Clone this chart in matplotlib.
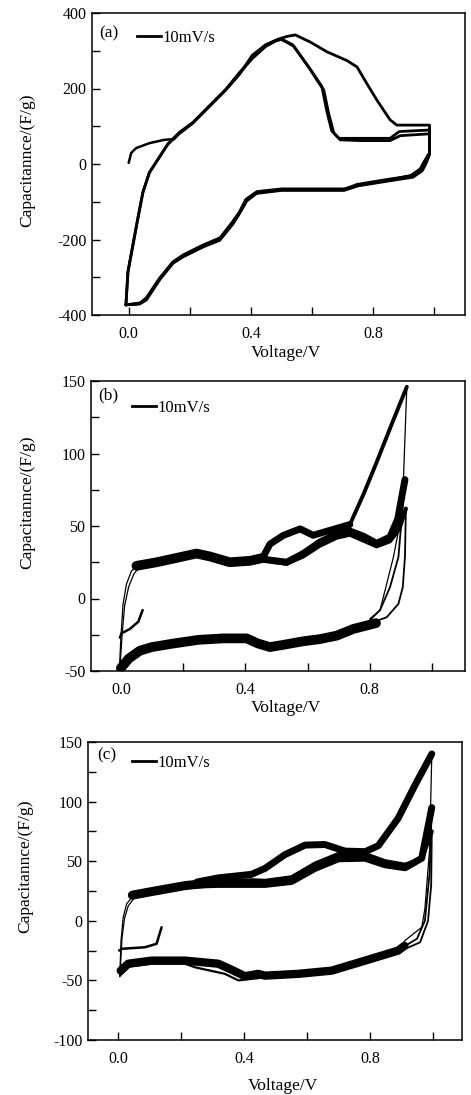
import matplotlib
matplotlib.use("Agg")
import matplotlib.pyplot as plt
from matplotlib.lines import Line2D
from matplotlib.ticker import MultipleLocator, FixedLocator

plt.rcParams['font.family'] = ['Liberation Serif', 'DejaVu Serif']
plt.rcParams['axes.unicode_minus'] = False

# ---------------- Panel (a) data ----------------
a_init_v = [0.0, 0.008, 0.024, 0.067, 0.116, 0.149, 0.165]
a_init_c = [3, 29, 42, 55, 64, 66, 80]

a_cyc1_v = [0.165, 0.209, 0.263, 0.317, 0.361, 0.404, 0.448, 0.486, 0.518, 0.545, 0.594,
            0.649, 0.714, 0.747, 0.779, 0.812, 0.855, 0.877, 0.984, 0.984, 0.964, 0.953,
            0.920, 0.845, 0.747, 0.703, 0.594, 0.502, 0.415, 0.383, 0.361, 0.339, 0.296,
            0.241, 0.176, 0.143, 0.100, 0.056, 0.035, -0.009]
a_cyc1_c = [80, 108, 152, 196, 238, 281, 314, 330, 338, 342, 323,
            297, 274, 257, 213, 169, 117, 103, 103, 30, 3, -15,
            -32, -41, -54, -68, -68, -68, -76, -94, -129, -155, -199,
            -217, -243, -261, -304, -357, -370, -373]

a_cyc2_v = [-0.009, -0.003, 0.013, 0.029, 0.046, 0.067, 0.095, 0.127, 0.165, 0.209, 0.263,
            0.317, 0.361, 0.404, 0.448, 0.480, 0.500, 0.540, 0.594, 0.616, 0.638, 0.654,
            0.671, 0.692, 0.757, 0.855, 0.888, 0.984, 0.984, 0.968, 0.955, 0.925, 0.850,
            0.750, 0.705, 0.600, 0.500, 0.420, 0.388, 0.366, 0.343, 0.300, 0.245, 0.180,
            0.147, 0.104, 0.060, 0.038, -0.009]
a_cyc2_c = [-374, -287, -217, -147, -76, -24, 11, 51, 82, 108, 152,
            196, 236, 288, 316, 327, 330, 312, 250, 222, 196, 134,
            82, 64, 62, 62, 75, 80, 28, 5, -12, -30, -43,
            -56, -66, -66, -66, -73, -92, -124, -150, -195, -214, -240,
            -258, -300, -353, -368, -373]

a_cyc3_v = [-0.009, -0.002, 0.014, 0.030, 0.047, 0.068, 0.096, 0.128, 0.166, 0.210, 0.264,
            0.318, 0.362, 0.405, 0.449, 0.482, 0.500, 0.536, 0.588, 0.610, 0.632, 0.648,
            0.664, 0.688, 0.757, 0.855, 0.885, 0.984, 0.984, 0.972, 0.960, 0.930, 0.850,
            0.750, 0.705, 0.600, 0.500, 0.418, 0.386, 0.362, 0.340, 0.298, 0.243, 0.178,
            0.145, 0.102, 0.058, 0.036, -0.009]
a_cyc3_c = [-372, -285, -215, -145, -74, -22, 13, 53, 84, 110, 154,
            198, 242, 280, 312, 326, 331, 316, 258, 232, 205, 140,
            88, 68, 68, 68, 86, 90, 25, 0, -18, -35, -45,
            -58, -70, -70, -70, -78, -98, -132, -160, -202, -220, -246,
            -263, -306, -360, -371, -373]

# ---------------- Panel (b) data ----------------
b_init_v = [0.070, 0.056, 0.029, 0.002, -0.003]
b_init_c = [-8, -16, -21, -24, -27]

b_rise1_v = [-0.005, 0.000, 0.007, 0.018, 0.034, 0.061]
b_rise1_c = [-50, -27, -4, 10, 19, 24]
b_rise2_v = [-0.003, 0.004, 0.012, 0.025, 0.042, 0.065]
b_rise2_c = [-48, -25, -5, 8, 17, 23]

b_plat_v = [0.050, 0.115, 0.179, 0.243, 0.286, 0.350, 0.415, 0.457]
b_plat_c = [22.5, 25, 28.0, 31, 29.0, 25, 26, 28.0]

b_up1_v = [0.457, 0.479, 0.522, 0.576, 0.618, 0.672, 0.736]
b_up1_c = [28.6, 37.5, 43.5, 48.0, 43.6, 47, 51]
b_ramp1_v = [0.736, 0.780, 0.822, 0.870, 0.919]
b_ramp1_c = [51, 72, 94, 120, 146]
b_up2_v = [0.457, 0.479, 0.533, 0.586, 0.640, 0.694, 0.736, 0.779, 0.822, 0.865, 0.890, 0.913]
b_up2_c = [27.0, 26.5, 25.0, 31, 39, 44.5, 46.5, 43.0, 38, 42.4, 55, 82]
b_up3_v = [0.457, 0.480, 0.533, 0.586, 0.640, 0.694, 0.736, 0.779, 0.822, 0.865, 0.895, 0.916]
b_up3_c = [26.5, 25.5, 24, 29, 36.5, 42, 44, 40, 36, 39.5, 48, 62]

b_rev1_v = [0.919, 0.906, 0.897, 0.876, 0.833, 0.800]
b_rev1_c = [146, 70, 52, 28.6, -8, -14]
b_rev2_v = [0.913, 0.892, 0.865, 0.833, 0.800]
b_rev2_c = [82, 28.6, 7.8, -8, -15]
b_rev3_v = [0.916, 0.913, 0.906, 0.892, 0.854, 0.800]
b_rev3_c = [62, 28.6, 7.8, -3.7, -13, -17]

b_cath1_v = [0.820, 0.747, 0.694, 0.640, 0.586, 0.521, 0.479, 0.440, 0.404, 0.330, 0.250,
             0.170, 0.100, 0.061, 0.025, 0.000]
b_cath1_c = [-17, -21, -25.6, -28, -29.5, -32, -33.5, -31, -27.5, -27.5, -28.5,
             -31, -33.5, -36, -41.5, -48]

# ---------------- Panel (c) data ----------------
c_init_v = [0.138, 0.122, 0.085, 0.011, 0.003]
c_init_c = [-5.4, -19.3, -22.2, -23.5, -25]

c_rise1_v = [0.005, 0.009, 0.016, 0.027, 0.053]
c_rise1_c = [-47, -16.5, 3, 14.3, 22.7]
c_rise2_v = [0.006, 0.012, 0.020, 0.032, 0.058]
c_rise2_c = [-44, -15, 2, 12.5, 21.5]

c_plat_v = [0.045, 0.106, 0.212, 0.300]
c_plat_c = [21.5, 24.5, 29.5, 32]

c_up1_v = [0.250, 0.318, 0.424, 0.467, 0.530, 0.594, 0.657, 0.721, 0.785, 0.827, 0.890, 0.944, 0.997]
c_up1_c = [32.5, 36, 39, 44, 55.5, 63.5, 64.0, 58.5, 58, 63.0, 86, 114, 140]
c_up2_v = [0.250, 0.318, 0.424, 0.467, 0.551, 0.626, 0.700, 0.785, 0.848, 0.912, 0.965, 0.997]
c_up2_c = [30, 30.5, 30.5, 30.5, 33.0, 44, 52.0, 52.5, 47.0, 44.5, 52.5, 95]
c_up3_v = [0.250, 0.318, 0.424, 0.467, 0.551, 0.626, 0.700, 0.785, 0.848, 0.912, 0.965, 0.997]
c_up3_c = [31, 33, 34, 33.5, 36.5, 48, 56, 56, 50, 47, 52, 75]

c_rev1_v = [0.997, 0.990, 0.975, 0.965, 0.912, 0.890]
c_rev1_c = [140, 60, 10, -5.4, -16.5, -25]
c_rev2_v = [0.997, 0.990, 0.975, 0.950, 0.900]
c_rev2_c = [95, 40, 0, -15, -23]
c_rev3_v = [0.997, 0.995, 0.985, 0.960, 0.900]
c_rev3_c = [75, 30, 0, -18, -25]

c_cath1_v = [0.910, 0.890, 0.785, 0.679, 0.573, 0.467, 0.445, 0.403, 0.360, 0.318, 0.212, 0.106,
             0.032, 0.008]
c_cath1_c = [-21, -25, -33.4, -41.8, -44.5, -46, -44.5, -46.5, -41.0, -36, -33.4, -33.4,
             -36, -41.8]
c_cath2_v = [0.573, 0.467, 0.424, 0.382, 0.339, 0.244, 0.212, 0.106, 0.032, 0.006]
c_cath2_c = [-46, -47.5, -48.7, -50, -44.5, -39, -36, -36, -38.5, -46]

LEG = '10mV/s'


def style(ax, xlim, ylim, ymaj, ymin, ylabels):
    ax.set_xlim(*xlim)
    ax.set_ylim(*ylim)
    ax.xaxis.set_major_locator(FixedLocator([0.0, 0.4, 0.8]))
    ax.xaxis.set_minor_locator(FixedLocator([0.2, 0.6, 1.0]))
    ax.set_xticklabels(['0.0', '0.4', '0.8'])
    ax.yaxis.set_major_locator(FixedLocator(ymaj))
    ax.yaxis.set_minor_locator(MultipleLocator(ymin))
    ax.set_yticklabels(ylabels)
    ax.tick_params(which='both', direction='in', top=False, right=False,
                   length=6, width=1.0, labelsize=11.5)
    ax.tick_params(axis='x', which='both', pad=8)
    ax.tick_params(axis='y', which='both', pad=4)
    for s in ax.spines.values():
        s.set_linewidth(1.1)
    ax.set_xlabel('Voltage/V', fontsize=12.5)
    ax.set_ylabel('Capacitannce/(F/g)', fontsize=12.5)


fig = plt.figure(figsize=(4.71, 10.95), dpi=100)

ax_a = fig.add_axes([92 / 471, 1 - 315 / 1095, 373 / 471, 302 / 1095])
ax_b = fig.add_axes([91 / 471, 1 - 671 / 1095, 374 / 471, 290 / 1095])
ax_c = fig.add_axes([88 / 471, 1 - 1040 / 1095, 374 / 471, 298 / 1095])

k = dict(color='black', solid_joinstyle='round', solid_capstyle='round')

# ---- (a)
ax_a.plot(a_init_v, a_init_c, lw=1.8, **k)
ax_a.plot(a_cyc1_v, a_cyc1_c, lw=2.0, **k)
ax_a.plot(a_cyc2_v, a_cyc2_c, lw=2.0, **k)
ax_a.plot(a_cyc3_v, a_cyc3_c, lw=2.0, **k)
style(ax_a, (-0.12, 1.10), (-400, 400), [-400, -200, 0, 200, 400], 100,
      ['-400', '-200', '0', '200', '400'])

# ---- (b)
band, thin = 5.0, 0.9
ax_b.plot(b_init_v, b_init_c, lw=1.8, **k)
ax_b.plot(b_rise1_v, b_rise1_c, lw=thin, **k)
ax_b.plot(b_rise2_v, b_rise2_c, lw=thin, **k)
ax_b.plot(b_plat_v, b_plat_c, lw=7.0, **k)
ax_b.plot(b_up1_v, b_up1_c, lw=band, **k)
ax_b.plot(b_ramp1_v, b_ramp1_c, lw=2.8, **k)
ax_b.plot(b_up2_v, b_up2_c, lw=band, **k)
ax_b.plot(b_up3_v, b_up3_c, lw=3.0, **k)
ax_b.plot(b_rev1_v, b_rev1_c, lw=thin, **k)
ax_b.plot(b_rev2_v, b_rev2_c, lw=thin + 0.4, **k)
ax_b.plot(b_rev3_v, b_rev3_c, lw=thin + 0.4, **k)
ax_b.plot(b_cath1_v, b_cath1_c, lw=7.0, **k)
style(ax_b, (-0.096, 1.106), (-50, 150), [-50, 0, 50, 100, 150], 25,
      ['-50', '0', '50', '100', '150'])

# ---- (c)
ax_c.plot(c_init_v, c_init_c, lw=1.8, **k)
ax_c.plot(c_rise1_v, c_rise1_c, lw=thin, **k)
ax_c.plot(c_rise2_v, c_rise2_c, lw=thin, **k)
ax_c.plot(c_plat_v, c_plat_c, lw=6.5, **k)
ax_c.plot(c_up1_v, c_up1_c, lw=band, **k)
ax_c.plot(c_up2_v, c_up2_c, lw=band, **k)
ax_c.plot(c_up3_v, c_up3_c, lw=3.0, **k)
ax_c.plot(c_rev1_v, c_rev1_c, lw=thin, **k)
ax_c.plot(c_rev2_v, c_rev2_c, lw=thin + 0.4, **k)
ax_c.plot(c_rev3_v, c_rev3_c, lw=thin + 0.4, **k)
ax_c.plot(c_cath1_v, c_cath1_c, lw=6.0, **k)
ax_c.plot(c_cath2_v, c_cath2_c, lw=1.6, **k)
style(ax_c, (-0.096, 1.093), (-100, 150), [-100, -50, 0, 50, 100, 150], 25,
      ['-100', '-50', '0', '50', '100', '150'])

# panel tags, legends, label positions
tags = [(ax_a, '(a)', 0.019, 0.934, 0.120, 0.945, -0.099, 0.513, -0.153),
        (ax_b, '(b)', 0.019, 0.952, 0.110, 0.935, -0.100, 0.583, -0.150),
        (ax_c, '(c)', 0.024, 0.956, 0.117, 0.958, -0.128, 0.584, -0.146)]
for ax, tag, tx, ty, lx, ly, xly, yly, ylx in tags:
    ax.text(tx, ty, tag, transform=ax.transAxes, ha='left', va='center',
            fontsize=12.5, color='black')
    h = Line2D([], [], color='black', lw=2.0)
    ax.legend([h], [LEG], loc='upper left', bbox_to_anchor=(lx, ly),
              frameon=False, handlelength=1.45, handletextpad=0.1,
              borderpad=0, borderaxespad=0, fontsize=12)
    ax.xaxis.set_label_coords(0.52, xly)
    ax.yaxis.set_label_coords(ylx, yly)

fig.savefig('out.png', dpi=100)
